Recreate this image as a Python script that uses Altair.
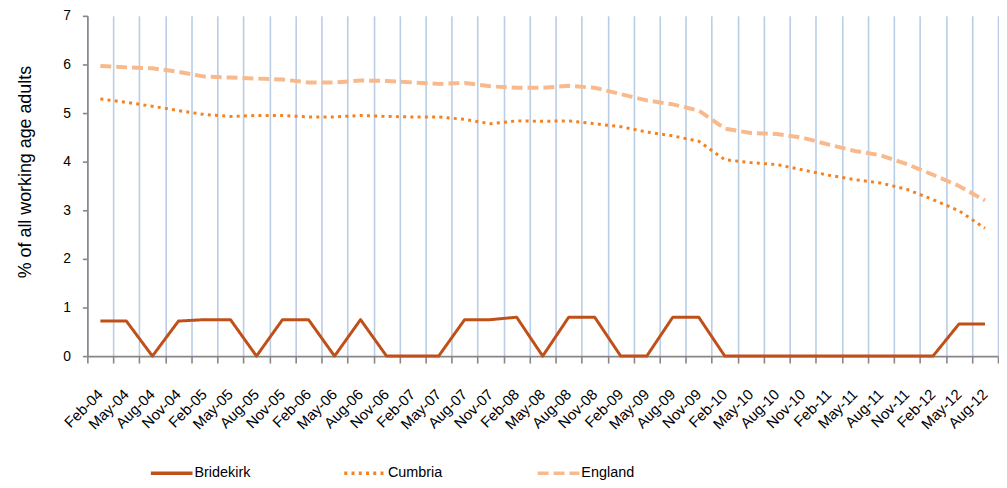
import altair as alt
import pandas as pd

months = ["Feb-04", "May-04", "Aug-04", "Nov-04", "Feb-05", "May-05", "Aug-05", "Nov-05",
          "Feb-06", "May-06", "Aug-06", "Nov-06", "Feb-07", "May-07", "Aug-07", "Nov-07",
          "Feb-08", "May-08", "Aug-08", "Nov-08", "Feb-09", "May-09", "Aug-09", "Nov-09",
          "Feb-10", "May-10", "Aug-10", "Nov-10", "Feb-11", "May-11", "Aug-11", "Nov-11",
          "Feb-12", "May-12", "Aug-12"]

bridekirk = [0.72, 0.72, 0.0, 0.72, 0.75, 0.75, 0.0, 0.75, 0.75, 0.0, 0.75, 0.0, 0.0, 0.0,
             0.75, 0.75, 0.80, 0.0, 0.80, 0.80, 0.0, 0.0, 0.80, 0.80, 0.0, 0.0, 0.0, 0.0,
             0.0, 0.0, 0.0, 0.0, 0.0, 0.66, 0.66]

cumbria = [5.29, 5.22, 5.14, 5.05, 4.97, 4.93, 4.95, 4.95, 4.92, 4.92, 4.95, 4.93, 4.92, 4.92,
           4.87, 4.78, 4.84, 4.83, 4.84, 4.78, 4.72, 4.61, 4.53, 4.42, 4.04, 3.98, 3.94, 3.83,
           3.72, 3.63, 3.56, 3.43, 3.22, 2.99, 2.63]

england = [5.97, 5.94, 5.92, 5.85, 5.75, 5.73, 5.71, 5.69, 5.63, 5.63, 5.67, 5.66, 5.63, 5.60,
           5.62, 5.55, 5.52, 5.52, 5.56, 5.52, 5.39, 5.26, 5.18, 5.05, 4.68, 4.59, 4.57, 4.49,
           4.35, 4.22, 4.13, 3.95, 3.73, 3.50, 3.20]

series_names = ["Bridekirk", "Cumbria", "England"]
series_colors = ["#BF5019", "#F5821F", "#F8B98C"]
series_dash = [[1, 0], [3, 4.3], [11, 5]]

rows = []
for name, vals in zip(series_names, [bridekirk, cumbria, england]):
    for m, v in zip(months, vals):
        rows.append({"period": m, "series": name, "value": v})
df = pd.DataFrame(rows)
labels_df = pd.DataFrame({"period": months})

AX = "#868686"
FONT = "Liberation Sans"

xscale = alt.Scale(type="band", paddingInner=0, paddingOuter=0)
xaxis = alt.Axis(tickBand="extent", grid=True, gridColor="#B9CDE5", gridWidth=1.6,
                 domainColor=AX, domainWidth=1.6, tickColor=AX, tickWidth=1.6,
                 tickSize=7, labels=False)
x = alt.X("period:N", sort=months, title=None, scale=xscale, axis=xaxis)

y = alt.Y("value:Q", scale=alt.Scale(domain=[0, 7], nice=False, zero=True),
          axis=alt.Axis(values=[0, 1, 2, 3, 4, 5, 6, 7], grid=False,
                        title="% of all working age adults", titleFont=FONT,
                        titleFontSize=18, titleFontWeight="normal", titleColor="#000000",
                        titleAngle=-90, titleX=-62, titleY=157, titleAlign="center",
                        titleBaseline="middle",
                        domainColor=AX, domainWidth=1.6, tickColor=AX, tickWidth=1.6,
                        tickSize=5, labelFont=FONT, labelFontSize=14,
                        labelColor="#000000", labelPadding=12))

legend = alt.Legend(title=None, orient="none", legendX=62, legendY=438,
                    direction="horizontal", symbolType="stroke",
                    symbolSize=1764, symbolStrokeWidth=3.5,
                    labelFont=FONT, labelFontSize=14.5, labelColor="#000000",
                    labelOffset=0, columnPadding=87, gridAlign="all")

color = alt.Color("series:N", scale=alt.Scale(domain=series_names, range=series_colors),
                  legend=legend)
dash = alt.StrokeDash("series:N", scale=alt.Scale(domain=series_names, range=series_dash),
                      legend=legend)

base = alt.Chart(df).encode(x=x, y=y, color=color, strokeDash=dash)

layers = []
for name, w in zip(["England", "Cumbria", "Bridekirk"], [4, 3, 3]):
    layers.append(base.transform_filter(alt.datum.series == name)
                  .mark_line(strokeWidth=w, strokeJoin="round"))

xlabels = alt.Chart(labels_df).mark_text(
    angle=315, align="right", baseline="middle", font=FONT, fontSize=15, color="#000000"
).encode(
    x=alt.X("period:N", sort=months, title=None, scale=xscale, axis=xaxis),
    y=alt.value(379),
    text="period:N",
)

chart = alt.layer(*layers, xlabels).properties(
    width=918, height=343,
    padding={"left": 80, "top": 6, "right": 1, "bottom": 123},
    autosize=alt.AutoSizeParams(type="none"),
).configure_view(stroke=None)

chart.save("out.html", embed_options={"renderer": "svg", "actions": False})
